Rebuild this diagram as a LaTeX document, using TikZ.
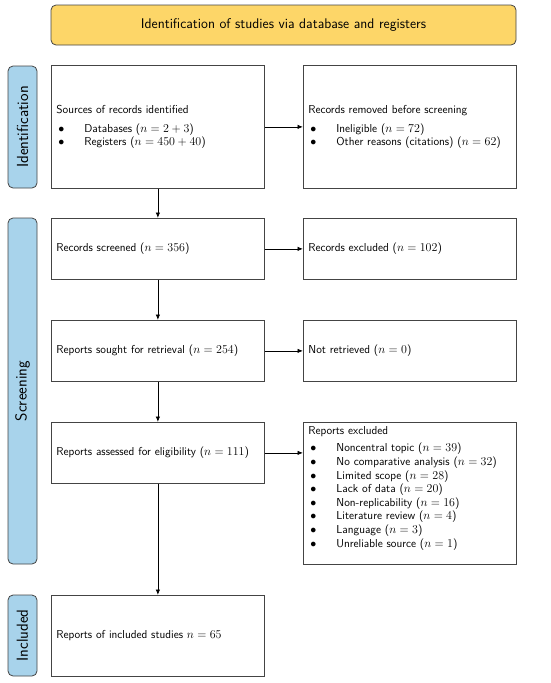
\documentclass[tikz,border=0pt]{standalone}
\usetikzlibrary{arrows.meta}
\renewcommand{\familydefault}{\sfdefault}
\definecolor{stageblue}{HTML}{A8D3EB}
\definecolor{titleyellow}{HTML}{FDD668}
\definecolor{edgegray}{HTML}{444444}
\newcommand{\itm}[1]{\makebox[28pt][l]{\hspace{2pt}$\bullet$}#1}
\begin{document}
\begin{tikzpicture}[x=1pt,y=-1pt,
  font=\sffamily\fontsize{11.5}{13.6}\selectfont,
  box/.style={draw=edgegray, line width=0.8pt, rectangle, inner xsep=5pt, inner ysep=0pt,
    anchor=north west, minimum width=213pt, text width=203pt, align=left},
  stage/.style={draw=edgegray, fill=stageblue, rounded corners=5pt, line width=0.8pt,
    rotate=90, inner sep=0pt, minimum height=29pt, font=\sffamily\fontsize{16}{18}\selectfont},
  arr/.style={-{Latex[length=5.5pt,width=4.5pt]}, line width=0.8pt}]
\useasboundingbox (0,0) rectangle (550,683);
% title
\node[draw=edgegray, fill=titleyellow, rounded corners=5pt, line width=0.8pt,
  minimum width=465pt, minimum height=40pt, inner sep=0pt,
  font=\sffamily\fontsize{14}{16}\selectfont] (title) at (283.5,25) {Identification of studies via database and registers};
% stages
\node[stage, minimum width=122pt] (sid) at (22.5,127) {Identification};
\node[stage, minimum width=346pt] (ssc) at (22.5,391) {Screening};
\node[stage, minimum width=81pt] (sin) at (22.5,635.5) {Included};
% left boxes
\node[box, minimum height=123pt] (b1) at (51,65) {Sources of records identified\\[5pt]
  \itm{Databases ($n=2+3$)}\\
  \itm{Registers ($n=450+40$)}};
\node[box, minimum height=61pt] (b2) at (51,218) {Records screened ($n=356$)};
\node[box, minimum height=61pt] (b3) at (51,320) {Reports sought for retrieval ($n=254$)};
\node[box, minimum height=61pt] (b4) at (51,422) {Reports assessed for eligibility ($n=111$)};
\node[box, minimum height=81pt] (b5) at (51,595) {Reports of included studies $n=65$};
% right boxes
\node[box, minimum height=123pt] (r1) at (303,65) {Records removed before screening\\[5pt]
  \itm{Ineligible ($n=72$)}\\
  \itm{Other reasons (citations) ($n=62$)}};
\node[box, minimum height=61pt] (r2) at (303,218) {Records excluded ($n=102$)};
\node[box, minimum height=61pt] (r3) at (303,320) {Not retrieved ($n=0$)};
\node[box, minimum height=142pt, inner ysep=4pt] (r4) at (303,422) {%
  \begin{minipage}[t][134pt][t]{203pt}
  Reports excluded\\[4pt]
  \itm{Noncentral topic ($n=39$)}\\
  \itm{No comparative analysis ($n=32$)}\\
  \itm{Limited scope ($n=28$)}\\
  \itm{Lack of data ($n=20$)}\\
  \itm{Non-replicability ($n=16$)}\\
  \itm{Literature review ($n=4$)}\\
  \itm{Language ($n=3$)}\\
  \itm{Unreliable source ($n=1$)}
  \end{minipage}};
% arrows
\draw[arr] (b1.south) -- (b2.north);
\draw[arr] (b2.south) -- (b3.north);
\draw[arr] (b3.south) -- (b4.north);
\draw[arr] (b4.south) -- (b5.north);
\draw[arr] (b1.east) -- (r1.west);
\draw[arr] (b2.east) -- (r2.west);
\draw[arr] (b3.east) -- (r3.west);
\draw[arr] (b4.east) -- (b4.east -| r4.west);
\end{tikzpicture}
\end{document}
